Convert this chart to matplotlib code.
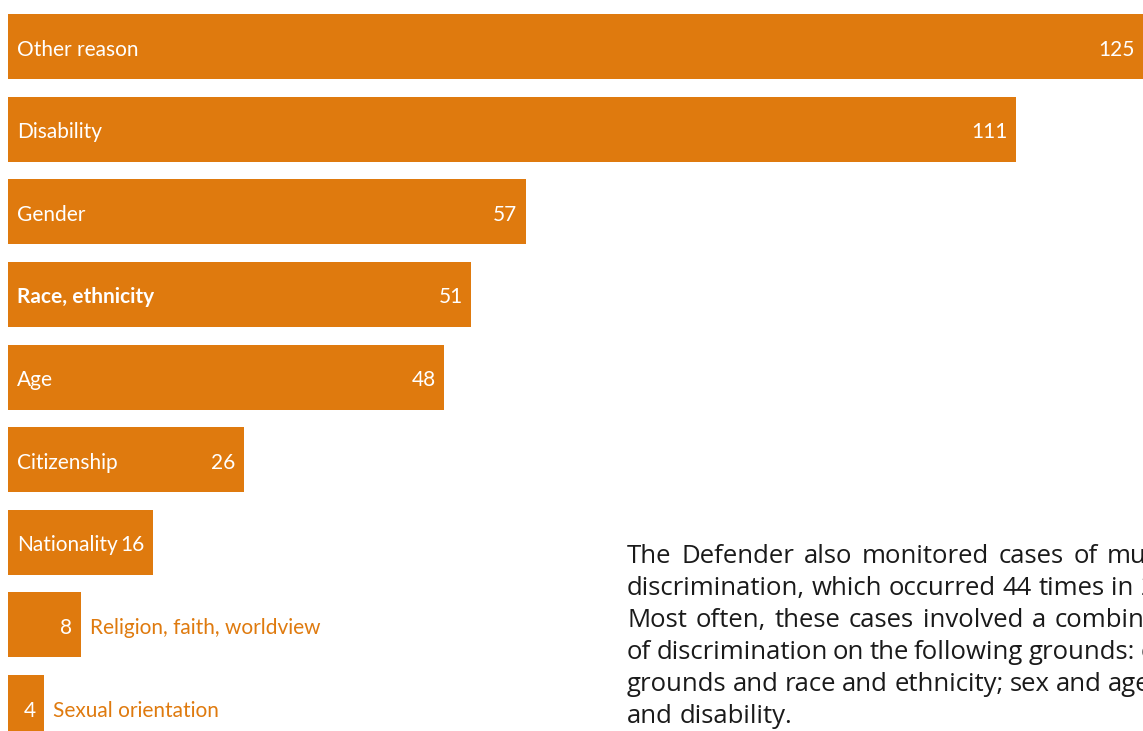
import matplotlib
matplotlib.use("Agg")
import matplotlib.pyplot as plt

categories = ["Other reason", "Disability", "Gender", "Race, ethnicity", "Age",
              "Citizenship", "Nationality", "Religion, faith, worldview", "Sexual orientation"]
values = [125, 111, 57, 51, 48, 26, 16, 8, 4]
bold_flags = [False, False, False, True, False, False, False, False, False]
outside_flags = [False, False, False, False, False, False, False, True, True]

paragraph = [
    "The Defender also monitored cases of multiple",
    "discrimination, which occurred 44 times in 2019.",
    "Most often, these cases involved a combination",
    "of discrimination on the following grounds: other",
    "grounds and race and ethnicity; sex and age; age",
    "and disability.",
]

ORANGE = "#DF7A0E"
FONT = "Lato"
PFONT = "Open Sans"
PSIZE = 18.5

W, H = 1143, 731
fig = plt.figure(figsize=(W / 100, H / 100), dpi=100)
left_px = 8
ax = fig.add_axes([left_px / W, 0, 1 - left_px / W, 1])

pitch = 82.625
c0 = 46.5
ax.set_xlim(0, 125)
ax.set_ylim((H - c0) / pitch, -c0 / pitch)
ax.axis("off")

ypos = list(range(len(categories)))
ax.barh(ypos, values, height=65 / pitch, color=ORANGE, edgecolor="none")

fs = 15
dy = -2.2
for y, cat, v, b, out in zip(ypos, categories, values, bold_flags, outside_flags):
    ax.annotate(str(v), xy=(v, y), xytext=(-6.0, dy), textcoords="offset points",
                ha="right", va="center", color="white", fontsize=fs, family=FONT)
    if out:
        ax.annotate(cat, xy=(v, y), xytext=(6.5, dy), textcoords="offset points",
                    ha="left", va="center", color=ORANGE, fontsize=fs, family=FONT)
    else:
        ax.annotate(cat, xy=(0, y), xytext=(6.5, dy), textcoords="offset points",
                    ha="left", va="center", color="white", fontsize=fs, family=FONT,
                    fontweight="bold" if b else "normal")

# justified paragraph (cut off at the right edge like the reference)
renderer = fig.canvas.get_renderer()


def word_width(w):
    t = fig.text(0, 0, w, fontsize=PSIZE, family=PFONT)
    wd = t.get_window_extent(renderer).width
    t.remove()
    return wd


x0 = 627
first = paragraph[0].split()
widths0 = [word_width(w) for w in first]
# gap chosen so that the 7th word of line 1 begins where it does in the reference
gap = (1107 - x0 - sum(widths0[:6])) / 6
target = sum(widths0) + gap * (len(first) - 1)

for i, line in enumerate(paragraph):
    words = line.split()
    widths = [word_width(w) for w in words]
    if i < len(paragraph) - 1 and len(words) > 1:
        g = (target - sum(widths)) / (len(words) - 1)
    else:
        g = word_width("a a") - 2 * word_width("a")
    x = x0
    ybase = 563 + 32 * i
    for w, wd in zip(words, widths):
        fig.text(x / W, 1 - ybase / H, w, ha="left", va="baseline",
                 fontsize=PSIZE, color="#1a1a1a", family=PFONT)
        x += wd + g

fig.savefig("out.png", dpi=100)
